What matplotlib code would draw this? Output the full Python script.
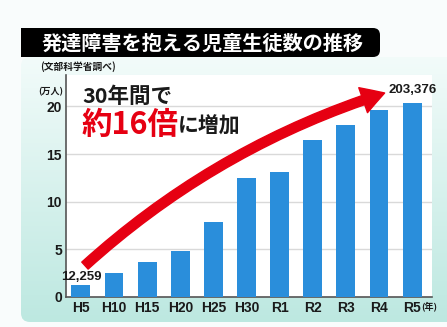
import numpy as np
import matplotlib
matplotlib.use("Agg")
import matplotlib.pyplot as plt
from matplotlib.patches import FancyBboxPatch, Rectangle, FancyArrowPatch, ArrowStyle
from matplotlib import font_manager

# Data: students with developmental disabilities (10,000 persons)
years = ["H5", "H10", "H15", "H20", "H25", "H30", "R1", "R2", "R3", "R4", "R5"]
students = [1.2259, 2.5, 3.7, 4.85, 7.9, 12.45, 13.15, 16.45, 18.05, 19.65, 20.3376]
first_label = "12,259"
last_label = "203,376"
yticks = [0, 5, 10, 15, 20]

title = "発達障害を抱える児童生徒数の推移"
source = "(文部科学省調べ)"
unit = "(万人)"
year_unit = "(年)"

W, H = 447, 327
JP = ["Noto Sans CJK JP", "DejaVu Sans"]
installed = {f.name for f in font_manager.fontManager.ttflist}
NARROW = ["Liberation Sans Narrow", "Noto Sans CJK JP"] if "Liberation Sans Narrow" in installed else ["Liberation Sans", "Noto Sans CJK JP"]

BAR = "#2a8edb"
RED = "#e60012"
INK = "#1a1a1a"

fig = plt.figure(figsize=(W / 100, H / 100), dpi=100)
fig.patch.set_facecolor("#f9fcfc")

def fx(px):
    return px / W

def fy(py):
    return 1 - py / H

# background layer in pixel coordinates
bg = fig.add_axes([0, 0, 1, 1], zorder=0)
bg.set_xlim(0, W)
bg.set_ylim(H, 0)
bg.axis("off")

panel = FancyBboxPatch((21, 57), W + 20 - 21, 322 - 57,
                       boxstyle="round,pad=0,rounding_size=9",
                       facecolor="none", edgecolor="none")
bg.add_patch(panel)
top_c = np.array([0.95, 0.985, 0.98])
bot_c = np.array([0.74, 0.91, 0.88])
t = np.linspace(0, 1, 256)[:, None, None]
grad = top_c * (1 - t) + bot_c * t
grad = np.repeat(grad, 2, axis=1)
im = bg.imshow(grad, extent=(21, W, 322, 57), aspect="auto", zorder=1)
im.set_clip_path(panel)

# title bar
bar_box = FancyBboxPatch((21, 28), 380 - 21, 57 - 28,
                         boxstyle="round,pad=0,rounding_size=7",
                         facecolor="black", edgecolor="none", zorder=2)
bg.add_patch(bar_box)
bg.add_patch(Rectangle((21, 28), 20, 29, facecolor="black", edgecolor="none", zorder=2))
bg.text(203, 43, title, color="white", fontsize=14.5, fontweight="bold",
        family=JP, ha="center", va="center", zorder=3)
bg.text(40, 67, source, color=INK, fontsize=7, fontweight="bold",
        family=JP, ha="left", va="center", zorder=3)
bg.text(51, 92, unit, color=INK, fontsize=6.5, fontweight="bold",
        family=JP, ha="center", va="center", zorder=3)
bg.text(421, 306, year_unit, color=INK, fontsize=6.5, fontweight="bold",
        family=JP, ha="left", va="center", zorder=3)

# chart
ax = fig.add_axes([fx(66), fy(297), fx(432) - fx(66), fy(75) - fy(297)], zorder=2)
ax.set_facecolor("white")
x = np.arange(len(years))
ax.bar(x, students, width=0.57, color=BAR, zorder=3)
ax.set_xlim(-0.45, 10.6)
ax.set_ylim(0, 23.3)
ax.set_yticks(yticks)
ax.set_yticklabels([str(v) for v in yticks])
ax.set_xticks(x)
ax.set_xticklabels(years)
ax.grid(axis="y", color="#d9d9d9", linewidth=1.0, zorder=0)
ax.tick_params(length=0, pad=3)
for lab in ax.get_xticklabels() + ax.get_yticklabels():
    lab.set_family(NARROW)
    lab.set_fontweight("bold")
    lab.set_fontsize(10)
    lab.set_color(INK)
for s in ("top", "right"):
    ax.spines[s].set_visible(False)
for s in ("left", "bottom"):
    ax.spines[s].set_color("#555555")
    ax.spines[s].set_linewidth(1.2)

ax.annotate(first_label, (x[0], students[0]), xytext=(0, 2), textcoords="offset points",
            ha="center", va="bottom", fontsize=9.5, fontweight="bold", family=NARROW, color=INK)
ax.annotate(last_label, (x[-1], students[-1]), xytext=(0, 5), textcoords="offset points",
            ha="center", va="bottom", fontsize=9.5, fontweight="bold", family=NARROW, color=INK)

# growth arrow
arrow = FancyArrowPatch((0.06, 3.1), (9.25, 21.5),
                        connectionstyle="arc3,rad=-0.11",
                        arrowstyle=ArrowStyle("Simple", head_length=2.4, head_width=2.8, tail_width=1.0),
                        mutation_scale=6.8, color=RED, zorder=5, clip_on=False)
ax.add_patch(arrow)

# headline
ax.text(0.045, 0.905, "30年間で", transform=ax.transAxes, fontsize=15.5, fontweight="bold",
        family=JP, color=INK, ha="left", va="center", zorder=6)
ax.text(0.043, 0.775, "約16倍", transform=ax.transAxes, fontsize=22, fontweight="bold",
        family=JP, color=RED, ha="left", va="center", zorder=6)
ax.text(0.305, 0.77, "に増加", transform=ax.transAxes, fontsize=15, fontweight="bold",
        family=JP, color=INK, ha="left", va="center", zorder=6)

fig.savefig("out.png", dpi=100, facecolor=fig.get_facecolor())
